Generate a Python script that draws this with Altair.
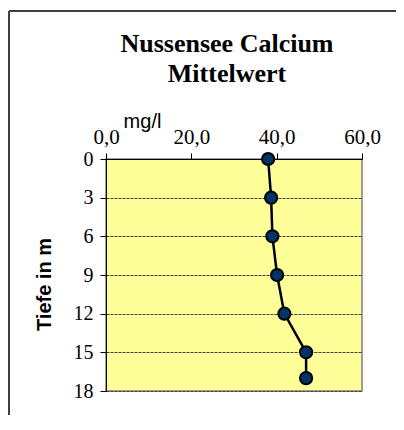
import altair as alt
import pandas as pd

depth = [0, 3, 6, 9, 12, 15, 17]
calcium = [38.0, 38.7, 39.0, 40.1, 41.8, 46.9, 46.9]
x_ticks = [0, 20, 40, 60]
y_ticks = [0, 3, 6, 9, 12, 15, 18]
title_lines = "Nussensee Calcium\nMittelwert"

df = pd.DataFrame({"depth": depth, "calcium": calcium})

SERIF = "Liberation Serif"
SANS = "Liberation Sans"

x_enc = alt.X(
    "calcium:Q",
    scale=alt.Scale(domain=[0, 60], nice=False, zero=False),
    axis=alt.Axis(
        orient="top", values=x_ticks, tickCount=10, title="mg/l",
        labelExpr="replace(format(datum.value, '.1f'), '.', ',')",
        labelFont=SERIF, labelFontSize=21, labelColor="black",
        labelBaseline="alphabetic", labelPadding=10, tickSize=6,
        labelFlush=False, labelOverlap=False, labelAlign="center",
        tickColor="black", domainColor="black", grid=False,
        titleFont=SANS, titleFontSize=20, titleFontWeight="normal", titleColor="black",
        titleX=36, titleY=-32, titleAlign="center", titleBaseline="alphabetic",
    ),
)
y_enc = alt.Y(
    "depth:Q",
    scale=alt.Scale(domain=[0, 18], reverse=True, nice=False, zero=False),
    axis=alt.Axis(
        values=y_ticks, tickCount=20, title="Tiefe in m",
        labelFont=SERIF, labelFontSize=20, labelColor="black",
        labelFlush=False, labelOverlap=False,
        labelPadding=7, tickSize=6, tickColor="black", domainColor="black",
        grid=True, gridColor="#404040", gridDash=[3, 1], gridWidth=1,
        titleFont=SANS, titleFontSize=20, titleFontWeight="bold", titleColor="black",
        titleAngle=270, titleX=-62, titleY=125, titleAlign="center", titleBaseline="middle",
    ),
)

base = alt.Chart(df)
line = base.mark_line(color="black", strokeWidth=2.5).encode(
    x=x_enc, y=y_enc, order=alt.Order("depth:Q")
)
points = base.mark_point(
    shape="circle", filled=True, fill="#003366", stroke="black", strokeWidth=2,
    size=150, opacity=1
).encode(x="calcium:Q", y="depth:Q")

one = pd.DataFrame({"a": [0]})
top_rule = alt.Chart(one).mark_rule(color="#404040", strokeWidth=2).encode(
    x=alt.value(-97), x2=alt.value(290), y=alt.value(-148)
)
left_rule = alt.Chart(one).mark_rule(color="#404040", strokeWidth=2).encode(
    x=alt.value(-97), y=alt.value(-148), y2=alt.value(256)
)
title = alt.Chart(one).mark_text(
    font=SERIF, fontSize=26, fontWeight="bold", color="black",
    align="center", baseline="alphabetic", lineBreak="\n", lineHeight=30
).encode(
    x=alt.value(121), y=alt.value(-107), text=alt.value(title_lines)
)

chart = alt.layer(top_rule, left_rule, title, line, points).properties(
    width=256, height=232,
    autosize=alt.AutoSizeParams(type="none"),
    padding={"left": 98, "top": 151, "right": 34, "bottom": 24},
).configure_view(
    fill="#FFFF99", stroke="#808080", strokeWidth=1.5
)

chart.save("out.html", embed_options={"renderer": "svg", "actions": False})
